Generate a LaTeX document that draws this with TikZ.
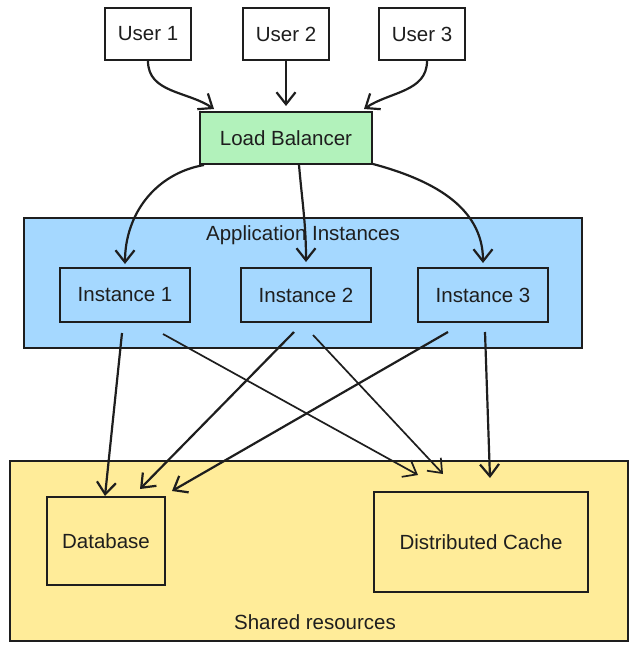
\documentclass[tikz,border=0pt]{standalone}
\usepackage{fontspec}
\setmainfont{Liberation Sans}
\usetikzlibrary{arrows.meta,positioning}
\definecolor{ink}{HTML}{1E1E1E}
\definecolor{lbgreen}{HTML}{B2F2BB}
\definecolor{appblue}{HTML}{A5D8FF}
\definecolor{sharedyellow}{HTML}{FFEC99}
\tikzset{
  label text/.style={inner sep=0pt,text=ink,font=\fontsize{20.5}{24}\selectfont},
  box/.style={label text,draw=ink,line width=2pt,rectangle},
  userbox/.style={box,fill=white,minimum width=86pt,minimum height=52pt},
  instbox/.style={box,minimum width=130pt,minimum height=54pt},
  group/.style={draw=ink,line width=2pt,rectangle,inner sep=0pt},
  arr/.style={draw=ink,line width=2.2pt,-{Straight Barb[length=12pt,width=19pt]}},
  thinarr/.style={arr,line width=1.7pt},
}

\begin{document}
\begin{tikzpicture}[x=1pt,y=1pt]
    \useasboundingbox (0,0) rectangle (630,-648);
    \node[group,fill=appblue,minimum width=558pt,minimum height=130pt] (app) at (303,-283) {};
    \node[group,fill=sharedyellow,minimum width=618pt,minimum height=180pt] (shared) at (319,-551) {};
    \node[label text,below=8pt of app.north] (apptitle) {Application Instances};
    \node[label text,above=12pt of shared.south,xshift=-4pt] (sharedtitle) {Shared resources};

    \node[box,fill=lbgreen,minimum width=172pt,minimum height=52pt] (lb) at (286,-138) {Load Balancer};
    \node[userbox,above=50pt of lb] (u2) {User 2};
    \node[userbox,left=50pt of u2] (u1) {User 1};
    \node[userbox,right=48pt of u2] (u3) {User 3};

    \node[instbox] (i1) at (125,-295) {Instance 1};
    \node[instbox] (i2) at (306,-295) {Instance 2};
    \node[instbox] (i3) at (483,-295) {Instance 3};

    \node[box,minimum width=118pt,minimum height=88pt] (db) at (106,-541) {Database};
    \node[box,minimum width=214pt,minimum height=100pt] (cache) at (481,-542) {Distributed Cache};

    \draw[arr] (u1.south) to[out=-90,in=146] ([shift={(-72,2)}]lb.north);
    \draw[arr] (u2.south) -- ([yshift=5pt]lb.north);
    \draw[arr] ([xshift=5pt]u3.south) to[out=-90,in=34] ([shift={(78,2)}]lb.north);

    \draw[arr] ([xshift=5pt]lb.south west) to[out=190,in=90] ([yshift=3pt]i1.north);
    \draw[arr] ([xshift=13pt]lb.south) to[out=-85,in=90] ([yshift=5pt]i2.north);
    \draw[arr] ([yshift=1pt]lb.south east) to[out=-15,in=90] ([yshift=4pt]i3.north);

    \draw[arr] ([shift={(-3,-10)}]i1.south) -- ([xshift=-1pt]db.north);
    \draw[thinarr] ([shift={(38,-11)}]i1.south) -- ([shift={(-63,16)}]cache.north);
    \draw[arr] ([shift={(-12,-9)}]i2.south) -- ([shift={(34,7)}]db.north);
    \draw[thinarr] ([shift={(7,-12)}]i2.south) -- ([shift={(-38,17)}]cache.north);
    \draw[arr] ([shift={(-35,-9)}]i3.south) -- ([shift={(66,5)}]db.north);
    \draw[arr] ([shift={(2,-9)}]i3.south) -- ([shift={(9,13)}]cache.north);
\end{tikzpicture}
\end{document}
